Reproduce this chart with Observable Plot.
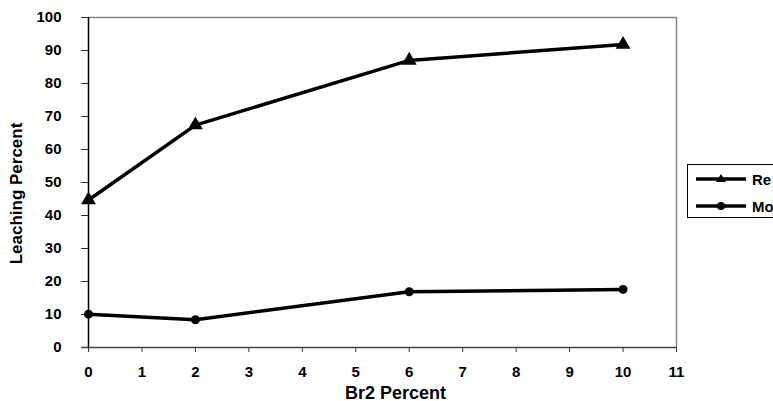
<!DOCTYPE html>
<html>
<head>
<meta charset="utf-8">
<script src="https://cdn.jsdelivr.net/npm/d3@7"></script>
<script src="https://cdn.jsdelivr.net/npm/@observablehq/plot@0.6"></script>
<style>
  html, body { margin: 0; padding: 0; background: #fff; overflow: hidden; }
  #wrap { position: relative; width: 773px; height: 401px; }
  #wrap svg g[aria-label$="tick label"] { font-size: 15px !important; font-weight: bold; }
  #wrap svg g[aria-label$="tick label"] text { font-size: 15px !important; }
  #legend { position: absolute; left: 687px; top: 164px; width: 120px; height: 52px;
            border: 1px solid #000; background: #fff; font: bold 15px "Liberation Sans", Arial, sans-serif; }
  #legend .row { position: absolute; left: 8px; height: 20px; display: flex; align-items: center; }
  #legend svg { margin-right: 6px; }
</style>
</head>
<body>
<div id="wrap"></div>
<script>
const br2 = [0, 2, 6, 10];
const reValues = [44.7, 67.4, 87.0, 91.8];
const moValues = [10.1, 8.4, 16.9, 17.6];
const seriesNames = ["Re", "Mo"];
const xTicks = d3.range(0, 12);
const yTicks = d3.range(0, 101, 10);

const re = br2.map((x, i) => ({x, y: reValues[i], s: seriesNames[0]}));
const mo = br2.map((x, i) => ({x, y: moValues[i], s: seriesNames[1]}));

const font = '"Liberation Sans", Arial, sans-serif';

const chart = Plot.plot({
  width: 773,
  height: 401,
  marginLeft: 88,
  marginTop: 17,
  marginRight: 97,
  marginBottom: 54,
  style: {fontFamily: font, fontWeight: "bold", fontSize: "15px", color: "#000", background: "#fff"},
  x: {domain: [0, 11]},
  y: {domain: [0, 100]},
  marks: [
    Plot.ruleY([100], {stroke: "#888", strokeWidth: 1.5}),
    Plot.ruleX([11], {stroke: "#888", strokeWidth: 1.5}),
    Plot.axisY({ticks: yTicks, tickSize: 7, tickPadding: 20, stroke: "#333", label: null, fontSize: 15}),
    Plot.axisX({ticks: xTicks, tickSize: 5, tickPadding: 14, stroke: "#333", label: null, fontSize: 15}),
    Plot.ruleY([0], {x1: -0.13, x2: 11, stroke: "#444", strokeWidth: 1.5}),
    Plot.ruleX([0], {stroke: "#000", strokeWidth: 1.5}),
    Plot.line(re, {x: "x", y: "y", stroke: "#000", strokeWidth: 3.5}),
    Plot.line(mo, {x: "x", y: "y", stroke: "#000", strokeWidth: 3.5}),
    Plot.dot(re, {x: "x", y: "y", symbol: "triangle", r: 5.5, fill: "#000"}),
    Plot.dot(mo, {x: "x", y: "y", symbol: "circle", r: 4.5, fill: "#000"}),
    Plot.text(["Br2 Percent"], {frameAnchor: "bottom", textAnchor: "middle", lineAnchor: "bottom", dx: 13, dy: 51, fontSize: 18, fontWeight: "bold", fill: "#000"}),
    Plot.text(["Leaching Percent"], {frameAnchor: "left", textAnchor: "middle", dx: -72, dy: 11, rotate: -90, fontSize: 17, fontWeight: "bold", fill: "#000"})
  ]
});

const wrap = document.getElementById("wrap");
wrap.appendChild(chart);

const legend = document.createElement("div");
legend.id = "legend";
const rows = [{name: seriesNames[0], sym: "tri", top: 4}, {name: seriesNames[1], sym: "dot", top: 31}];
for (const r of rows) {
  const row = document.createElement("div");
  row.className = "row";
  row.style.top = r.top + "px";
  const mark = r.sym === "tri"
    ? '<path d="M25,5 L30,13 L20,13 Z" fill="#000"/>'
    : '<circle cx="25" cy="10" r="4" fill="#000"/>';
  row.innerHTML = `<svg width="50" height="20"><line x1="0" y1="10" x2="50" y2="10" stroke="#000" stroke-width="3.5"/>${mark}</svg><span>${r.name}</span>`;
  legend.appendChild(row);
}
wrap.appendChild(legend);
</script>
</body>
</html>
